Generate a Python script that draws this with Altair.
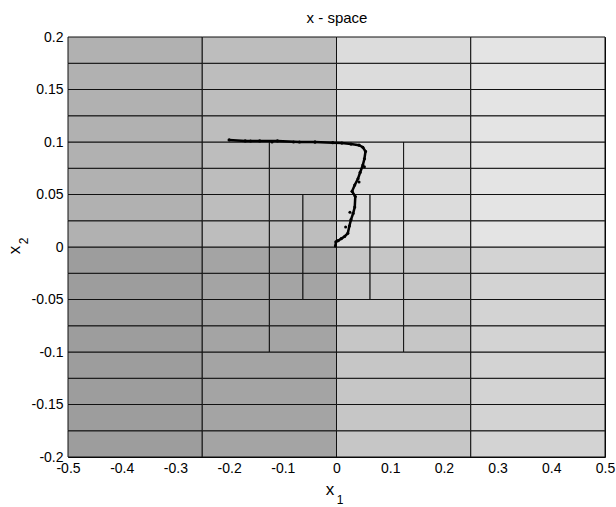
import altair as alt
import pandas as pd

# ---------------- data ----------------
# horizontal partition edges (rows) and column edges of the tree partition
row_edges = [-0.2, -0.175, -0.15, -0.125, -0.1, -0.075, -0.05, -0.025, 0.0,
             0.025, 0.05, 0.075, 0.1, 0.125, 0.15, 0.175, 0.2]
outer_cols = [-0.5, -0.25, 0.0, 0.25, 0.5]
mid_cols = [-0.5, -0.25, -0.125, 0.0, 0.125, 0.25, 0.5]          # used for |x2| <= 0.1
inner_cols = [-0.5, -0.25, -0.125, -0.0625, 0.0, 0.0625, 0.125, 0.25, 0.5]  # |x2| <= 0.05

# gray level of each big column (upper half / lower half)
big_col_edges = [-0.5, -0.25, 0.0, 0.25, 0.5]
gray_upper = [177, 189, 220, 228]
gray_lower = [157, 164, 198, 211]

# trajectory
traj_x1 = [-0.200, -0.170, -0.143, -0.110, -0.069, -0.040, -0.007, 0.010, 0.027,
           0.042, 0.049, 0.054, 0.052, 0.049, 0.044, 0.040, 0.034, 0.029, 0.035,
           0.034, 0.031, 0.027, 0.024, 0.021, 0.015, 0.009, 0.003, -0.001, -0.002]
traj_x2 = [0.102, 0.101, 0.101, 0.101, 0.100, 0.100, 0.0994, 0.099, 0.098,
           0.097, 0.095, 0.091, 0.084, 0.078, 0.071, 0.065, 0.059, 0.053, 0.048,
           0.038, 0.032, 0.026, 0.020, 0.013, 0.010, 0.008, 0.006, 0.005, 0.001]
# isolated sample dots
dot_x1 = [0.052, 0.042, 0.025, 0.017, -0.12, -0.08, -0.04, -0.16]
dot_x2 = [0.0765, 0.062, 0.033, 0.019, 0.1, 0.1, 0.1, 0.101]

x_ticks = [-0.5, -0.4, -0.3, -0.2, -0.1, 0, 0.1, 0.2, 0.3, 0.4, 0.5]
y_ticks = [-0.2, -0.15, -0.1, -0.05, 0, 0.05, 0.1, 0.15, 0.2]

# ---------------- build cells ----------------
def gray_for(xa, xb, ya, yb):
    xc = (xa + xb) / 2
    yc = (ya + yb) / 2
    for i in range(len(big_col_edges) - 1):
        if big_col_edges[i] <= xc < big_col_edges[i + 1]:
            g = gray_upper[i] if yc > 0 else gray_lower[i]
            return "#%02x%02x%02x" % (g, g, g)
    return "#ffffff"

cells = []
for j in range(len(row_edges) - 1):
    ya, yb = row_edges[j], row_edges[j + 1]
    yc = (ya + yb) / 2
    if abs(yc) < 0.05:
        cols = inner_cols
    elif abs(yc) < 0.1:
        cols = mid_cols
    else:
        cols = outer_cols
    for i in range(len(cols) - 1):
        xa, xb = cols[i], cols[i + 1]
        cells.append({"xa": xa, "xb": xb, "ya": ya, "yb": yb,
                      "c": gray_for(xa, xb, ya, yb)})
cells_df = pd.DataFrame(cells)

traj_df = pd.DataFrame({"x1": traj_x1, "x2": traj_x2, "o": list(range(len(traj_x1)))})
dots_df = pd.DataFrame({"x1": dot_x1, "x2": dot_x2})

FONT = "Liberation Sans"
xscale = alt.Scale(domain=[-0.5, 0.5], nice=False, zero=False)
yscale = alt.Scale(domain=[-0.2, 0.2], nice=False, zero=False)

rects = alt.Chart(cells_df).mark_rect(stroke="#111111", strokeWidth=1).encode(
    x=alt.X("xa:Q", scale=xscale, title=None,
            axis=alt.Axis(values=x_ticks, labelExpr="toString(datum.value)",
                          grid=False, domain=False, ticks=False, labelFont=FONT,
                          labelFontSize=14, labelColor="black", labelPadding=4,
                          labelFlush=False)),
    x2="xb:Q",
    y=alt.Y("ya:Q", scale=yscale, title=None,
            axis=alt.Axis(values=y_ticks, labelExpr="toString(datum.value)",
                          grid=False, domain=False, ticks=False, labelFont=FONT,
                          labelFontSize=14, labelColor="black", labelPadding=5,
                          labelFlush=False)),
    y2="yb:Q",
    color=alt.Color("c:N", scale=None),
)

line = alt.Chart(traj_df).mark_line(color="black", strokeWidth=2.5).encode(
    x=alt.X("x1:Q", scale=xscale), y=alt.Y("x2:Q", scale=yscale), order="o:Q")

pts = alt.Chart(traj_df).mark_circle(color="black", size=10, opacity=1).encode(
    x=alt.X("x1:Q", scale=xscale), y=alt.Y("x2:Q", scale=yscale))

dots = alt.Chart(dots_df).mark_circle(color="black", size=9, opacity=1).encode(
    x=alt.X("x1:Q", scale=xscale), y=alt.Y("x2:Q", scale=yscale))

def label(text, px, py, size, angle=0):
    return alt.Chart(pd.DataFrame({"t": [text]})).mark_text(
        font=FONT, fontSize=size, color="black", angle=angle,
        align="center", baseline="middle").encode(
        text="t:N", x=alt.value(px), y=alt.value(py))

title = label("x - space", 269, -19, 15)
xl = label("x", 262, 453, 17)
xl_sub = label("1", 272, 463, 12)
yl = label("x", -53, 213, 17, angle=270)
yl_sub = label("2", -44, 204, 12, angle=270)

chart = alt.layer(rects, line, pts, dots, title, xl, xl_sub, yl, yl_sub).properties(
    width=537, height=420,
    autosize=alt.AutoSizeParams(type="none"),
    padding={"left": 68, "top": 37, "right": 11, "bottom": 50},
    background="white",
).configure_view(stroke="black", strokeWidth=1)

chart.save("out.html", embed_options={"renderer": "svg", "actions": False})
